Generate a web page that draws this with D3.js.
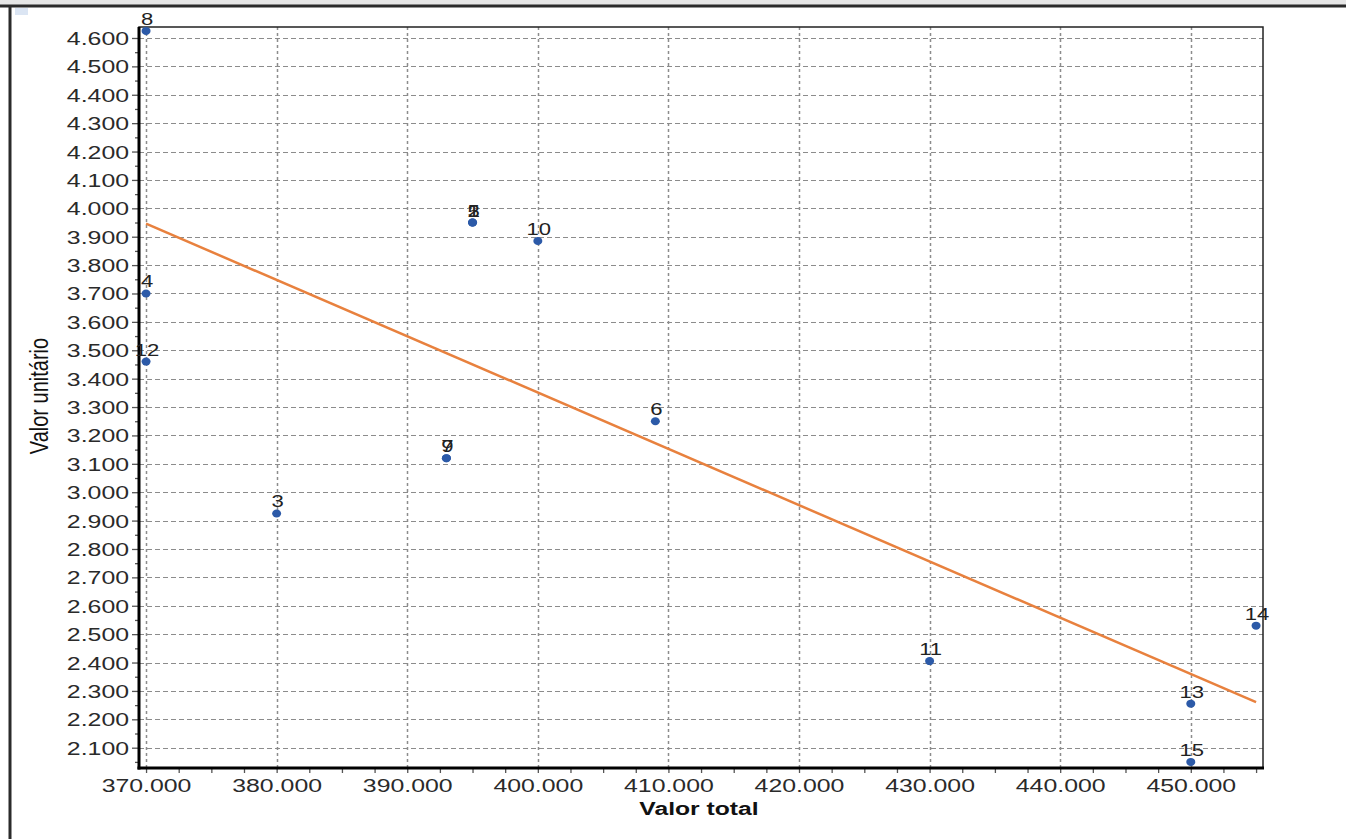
<!DOCTYPE html>
<html>
<head>
<meta charset="utf-8">
<script src="https://cdn.jsdelivr.net/npm/d3@7"></script>
<style>
  body { margin: 0; background: #fff; }
  svg { display: block; font-family: "Liberation Sans", Arial, sans-serif; }
</style>
</head>
<body>
<div id="chart"></div>
<script>
// pontos (rótulo, valor total, valor unitário)
var labels = ["8", "4", "12", "3", "7", "9", "2", "1", "5", "10", "6", "11", "14", "13", "15"];
var valorTotal = [370000, 370000, 370000, 380000, 393000, 393000, 395000, 395000, 395000, 400000, 409000, 430000, 455000, 450000, 450000];
var valorUnitario = [4625, 3700, 3460, 2925, 3120, 3120, 3950, 3950, 3950, 3885, 3250, 2405, 2530, 2255, 2050];

var xTicks = [370000, 380000, 390000, 400000, 410000, 420000, 430000, 440000, 450000];
var yTicks = [2100, 2200, 2300, 2400, 2500, 2600, 2700, 2800, 2900, 3000, 3100, 3200, 3300, 3400, 3500, 3600, 3700, 3800, 3900, 4000, 4100, 4200, 4300, 4400, 4500, 4600];

var width = 1346, height = 839;
var m = {left: 139, right: 1263, top: 27, bottom: 768};

var data = labels.map(function(l, i) {
  return {label: l, x: valorTotal[i], y: valorUnitario[i]};
});

var ptBR = d3.formatLocale({decimal: ",", thousands: ".", grouping: [3], currency: ["R$", ""]});
var fmt = ptBR.format(",.0f");

var svg = d3.select("#chart").append("svg")
  .attr("width", width)
  .attr("height", height);

// moldura da janela
svg.append("rect").attr("x", 0).attr("y", 0).attr("width", width).attr("height", 5).attr("fill", "#e6e6e6");
svg.append("line").attr("x1", 0).attr("x2", width).attr("y1", 6).attr("y2", 6)
  .attr("stroke", "#2b2b2b").attr("stroke-width", 3);
svg.append("line").attr("x1", 10).attr("x2", 10).attr("y1", 6).attr("y2", height)
  .attr("stroke", "#2b2b2b").attr("stroke-width", 3);
svg.append("rect").attr("x", 15).attr("y", 8).attr("width", 13).attr("height", 7).attr("fill", "#dbe5f3");

var x = d3.scaleLinear().domain([369460, 455530]).range([m.left, m.right]);
var y = d3.scaleLinear().domain([2028.5, 4638.7]).range([m.bottom, m.top]);

// grade
svg.append("g").selectAll("line").data(yTicks).enter().append("line")
  .attr("x1", m.left).attr("x2", m.right)
  .attr("y1", function(d) { return Math.round(y(d)) + 0.5; })
  .attr("y2", function(d) { return Math.round(y(d)) + 0.5; })
  .attr("stroke", "#8c8c8c").attr("stroke-width", 1.2).attr("stroke-dasharray", "5,3");

svg.append("g").selectAll("line").data(xTicks).enter().append("line")
  .attr("y1", m.top).attr("y2", m.bottom)
  .attr("x1", function(d) { return Math.round(x(d)) + 0.5; })
  .attr("x2", function(d) { return Math.round(x(d)) + 0.5; })
  .attr("stroke", "#8c8c8c").attr("stroke-width", 1.5).attr("stroke-dasharray", "3,3");

// linha de tendência (mínimos quadrados)
var mx = d3.mean(data, function(d) { return d.x; });
var my = d3.mean(data, function(d) { return d.y; });
var sxy = d3.sum(data, function(d) { return (d.x - mx) * (d.y - my); });
var sxx = d3.sum(data, function(d) { return (d.x - mx) * (d.x - mx); });
var slope = sxy / sxx, icpt = my - slope * mx;
var xr = d3.extent(valorTotal);
svg.append("path")
  .datum(xr.map(function(v) { return [v, icpt + slope * v]; }))
  .attr("d", d3.line().x(function(d) { return x(d[0]); }).y(function(d) { return y(d[1]); }))
  .attr("fill", "none").attr("stroke", "#e8813e").attr("stroke-width", 2.5);

// eixos
var xMinor = d3.range(370000, 455001, 2500);
var xAxis = svg.append("g")
  .attr("transform", "translate(0," + m.bottom + ")")
  .call(d3.axisBottom(x).tickValues(xMinor).tickSize(5).tickSizeOuter(0).tickFormat(function(d) {
    return d % 10000 === 0 ? fmt(d) : "";
  }));
xAxis.select(".domain").remove();
xAxis.selectAll(".tick line").attr("stroke", "#555").attr("stroke-width", 1.3);
xAxis.selectAll(".tick text")
  .attr("y", 11).attr("dy", "0.71em")
  .attr("transform", "scale(1.38,1)")
  .style("font-size", "18px").attr("fill", "#2a2a2a");

var yMinor = d3.range(2050, 4601, 50);
var yAxis = svg.append("g")
  .attr("transform", "translate(" + m.left + ",0)")
  .call(d3.axisLeft(y).tickValues(yMinor).tickSize(4).tickSizeOuter(0).tickFormat(function(d) {
    return d % 100 === 0 ? fmt(d) : "";
  }));
yAxis.select(".domain").remove();
yAxis.selectAll(".tick line")
  .attr("x2", function(d) { return d % 100 === 0 ? -7 : -4; })
  .attr("stroke", "#555").attr("stroke-width", 1.3);
yAxis.selectAll(".tick text")
  .attr("x", -10 / 1.38).attr("dy", "0.36em")
  .attr("transform", "scale(1.38,1)")
  .style("font-size", "18px").attr("fill", "#2a2a2a");

// contorno da área
svg.append("rect").attr("x", m.left).attr("y", m.top)
  .attr("width", m.right - m.left).attr("height", m.bottom - m.top)
  .attr("fill", "none").attr("stroke", "#222").attr("stroke-width", 1.5);
svg.append("line").attr("x1", m.left).attr("x2", m.left).attr("y1", m.top).attr("y2", m.bottom + 1.5)
  .attr("stroke", "#000").attr("stroke-width", 3);
svg.append("line").attr("x1", m.left - 1.5).attr("x2", m.right + 1).attr("y1", m.bottom).attr("y2", m.bottom)
  .attr("stroke", "#000").attr("stroke-width", 3);

// pontos
svg.append("g").selectAll("ellipse").data(data).enter().append("ellipse")
  .attr("cx", function(d) { return x(d.x); })
  .attr("cy", function(d) { return y(d.y); })
  .attr("rx", 4.5).attr("ry", 4)
  .attr("fill", "#2c5aa8");

svg.append("g").selectAll("text").data(data).enter().append("text")
  .attr("transform", function(d) {
    return "translate(" + (x(d.x) + 1) + "," + (y(d.y) - 6) + ") scale(1.3,1)";
  })
  .attr("text-anchor", "middle")
  .style("font-size", "17px").attr("fill", "#222")
  .text(function(d) { return d.label; });

// títulos
svg.append("text")
  .attr("transform", "translate(" + ((m.left + m.right) / 2 - 2) + ",815) scale(1.3,1)")
  .attr("text-anchor", "middle")
  .style("font-size", "19px").style("font-weight", "bold").attr("fill", "#111")
  .text("Valor total");

svg.append("text")
  .attr("transform", "translate(48,396) rotate(-90) scale(1,1.3)")
  .attr("text-anchor", "middle")
  .style("font-size", "20px").attr("fill", "#111")
  .text("Valor unitário");
</script>
</body>
</html>
